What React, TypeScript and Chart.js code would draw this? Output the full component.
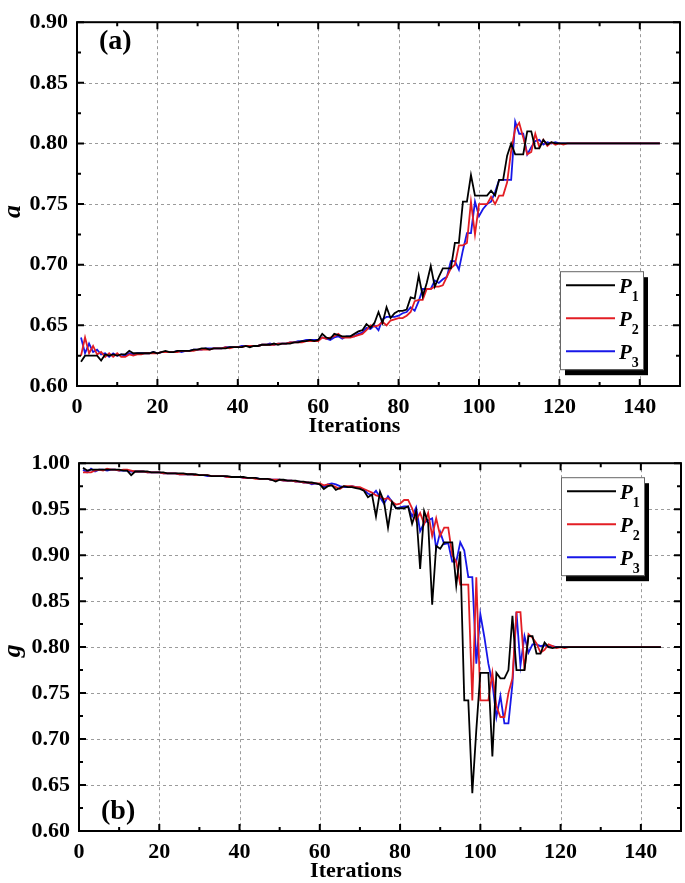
import React, { useEffect, useRef } from "react";
import { Chart, registerables } from "chart.js";

Chart.register(...registerables);

const ITERATIONS = Array.from({ length: 145 }, (_, i) => i + 1);
const X_TICKS = [0, 20, 40, 60, 80, 100, 120, 140];
const A_TICKS = [0.6, 0.65, 0.7, 0.75, 0.8, 0.85, 0.9];
const G_TICKS = [0.6, 0.65, 0.7, 0.75, 0.8, 0.85, 0.9, 0.95, 1.0];
const SERIES_LABELS = ["P1", "P2", "P3"];
const SERIES_COLORS = ["#000000", "#e31e24", "#1717e8"];
const X_TITLE = "Iterations";

// panel (a): parameter a
const A_P1 = [
  0.620, 0.625, 0.625, 0.625, 0.625, 0.621, 0.626, 0.625, 0.626, 0.625,
  0.626, 0.626, 0.629, 0.627, 0.627, 0.627, 0.627, 0.627, 0.628, 0.627,
  0.628, 0.629, 0.628, 0.628, 0.629, 0.629, 0.629, 0.629, 0.630, 0.630,
  0.631, 0.631, 0.630, 0.631, 0.631, 0.631, 0.631, 0.632, 0.632, 0.632,
  0.632, 0.633, 0.632, 0.633, 0.633, 0.634, 0.634, 0.634, 0.635, 0.634,
  0.635, 0.635, 0.635, 0.636, 0.636, 0.637, 0.637, 0.638, 0.637, 0.638,
  0.643, 0.640, 0.639, 0.643, 0.642, 0.641, 0.641, 0.641, 0.643, 0.645,
  0.646, 0.651, 0.648, 0.652, 0.661, 0.652, 0.665, 0.656, 0.660, 0.662,
  0.662, 0.663, 0.673, 0.672, 0.691, 0.674, 0.685, 0.699, 0.682, 0.690,
  0.697, 0.697, 0.697, 0.718, 0.718, 0.752, 0.752, 0.774, 0.757, 0.757,
  0.757, 0.757, 0.761, 0.757, 0.770, 0.770, 0.790, 0.800, 0.791, 0.791,
  0.791, 0.810, 0.810, 0.796, 0.796, 0.803, 0.799, 0.801, 0.800, 0.800,
  0.800, 0.800, 0.800, 0.800, 0.800, 0.800, 0.800, 0.800, 0.800, 0.800,
  0.800, 0.800, 0.800, 0.800, 0.800, 0.800, 0.800, 0.800, 0.800, 0.800,
  0.800, 0.800, 0.800, 0.800, 0.800,
];
const A_P2 = [
  0.625, 0.640, 0.627, 0.633, 0.626, 0.628, 0.624, 0.627, 0.624, 0.627,
  0.624, 0.624, 0.626, 0.625, 0.626, 0.626, 0.627, 0.627, 0.627, 0.627,
  0.628, 0.628, 0.628, 0.628, 0.628, 0.629, 0.629, 0.629, 0.629, 0.630,
  0.630, 0.630, 0.630, 0.631, 0.631, 0.631, 0.632, 0.631, 0.632, 0.632,
  0.632, 0.633, 0.633, 0.633, 0.633, 0.634, 0.634, 0.634, 0.634, 0.635,
  0.635, 0.635, 0.636, 0.636, 0.636, 0.636, 0.637, 0.637, 0.637, 0.637,
  0.640, 0.639, 0.640, 0.641, 0.643, 0.640, 0.640, 0.640, 0.641, 0.642,
  0.643, 0.646, 0.650, 0.649, 0.650, 0.653, 0.650, 0.654, 0.655, 0.656,
  0.656, 0.658, 0.661, 0.670, 0.671, 0.671, 0.680, 0.680, 0.682, 0.682,
  0.683, 0.690, 0.697, 0.700, 0.716, 0.716, 0.718, 0.752, 0.725, 0.750,
  0.750, 0.750, 0.756, 0.750, 0.757, 0.757, 0.768, 0.794, 0.812, 0.817,
  0.805, 0.791, 0.793, 0.808, 0.797, 0.803, 0.798, 0.801, 0.799, 0.800,
  0.799, 0.800, 0.800, 0.800, 0.800, 0.800, 0.800, 0.800, 0.800, 0.800,
  0.800, 0.800, 0.800, 0.800, 0.800, 0.800, 0.800, 0.800, 0.800, 0.800,
  0.800, 0.800, 0.800, 0.800, 0.800,
];
const A_P3 = [
  0.640, 0.627, 0.635, 0.628, 0.630, 0.626, 0.627, 0.624, 0.627, 0.625,
  0.626, 0.625, 0.627, 0.626, 0.627, 0.627, 0.627, 0.627, 0.628, 0.627,
  0.628, 0.628, 0.628, 0.628, 0.629, 0.628, 0.629, 0.629, 0.630, 0.630,
  0.630, 0.631, 0.631, 0.631, 0.631, 0.631, 0.632, 0.632, 0.632, 0.632,
  0.633, 0.633, 0.633, 0.633, 0.633, 0.634, 0.634, 0.635, 0.634, 0.635,
  0.635, 0.635, 0.636, 0.636, 0.637, 0.637, 0.638, 0.638, 0.638, 0.638,
  0.640, 0.639, 0.638, 0.640, 0.641, 0.639, 0.641, 0.641, 0.641, 0.643,
  0.644, 0.648, 0.647, 0.650, 0.646, 0.655, 0.657, 0.657, 0.657, 0.658,
  0.660, 0.661, 0.665, 0.662, 0.670, 0.680, 0.680, 0.680, 0.687, 0.685,
  0.688, 0.690, 0.703, 0.703, 0.696, 0.712, 0.726, 0.726, 0.752, 0.740,
  0.746, 0.750, 0.752, 0.760, 0.770, 0.770, 0.770, 0.770, 0.818, 0.808,
  0.808, 0.791, 0.797, 0.802, 0.803, 0.799, 0.801, 0.800, 0.801, 0.800,
  0.800, 0.800, 0.800, 0.800, 0.800, 0.800, 0.800, 0.800, 0.800, 0.800,
  0.800, 0.800, 0.800, 0.800, 0.800, 0.800, 0.800, 0.800, 0.800, 0.800,
  0.800, 0.800, 0.800, 0.800, 0.800,
];

// panel (b): parameter g
const G_P1 = [
  0.995, 0.992, 0.993, 0.993, 0.993, 0.993, 0.993, 0.993, 0.993, 0.993,
  0.992, 0.992, 0.987, 0.991, 0.991, 0.991, 0.991, 0.990, 0.990, 0.990,
  0.990, 0.989, 0.989, 0.989, 0.989, 0.989, 0.988, 0.988, 0.988, 0.987,
  0.987, 0.987, 0.986, 0.986, 0.986, 0.986, 0.986, 0.985, 0.985, 0.985,
  0.985, 0.984, 0.984, 0.984, 0.983, 0.983, 0.983, 0.982, 0.980, 0.982,
  0.982, 0.981, 0.981, 0.981, 0.980, 0.980, 0.979, 0.979, 0.978, 0.977,
  0.972, 0.975, 0.976, 0.971, 0.973, 0.975, 0.974, 0.974, 0.973, 0.972,
  0.970, 0.963, 0.966, 0.942, 0.969, 0.958, 0.930, 0.958, 0.951, 0.951,
  0.951, 0.953, 0.934, 0.948, 0.885, 0.948, 0.935, 0.846, 0.910, 0.907,
  0.914, 0.914, 0.914, 0.867, 0.904, 0.742, 0.742, 0.641, 0.710, 0.772,
  0.772, 0.772, 0.681, 0.772, 0.766, 0.766, 0.775, 0.834, 0.775, 0.775,
  0.775, 0.812, 0.812, 0.793, 0.793, 0.805, 0.800, 0.799, 0.800, 0.800,
  0.800, 0.800, 0.800, 0.800, 0.800, 0.800, 0.800, 0.800, 0.800, 0.800,
  0.800, 0.800, 0.800, 0.800, 0.800, 0.800, 0.800, 0.800, 0.800, 0.800,
  0.800, 0.800, 0.800, 0.800, 0.800,
];
const G_P2 = [
  0.990, 0.990, 0.990, 0.992, 0.993, 0.992, 0.994, 0.993, 0.993, 0.992,
  0.993, 0.993, 0.992, 0.991, 0.991, 0.991, 0.990, 0.990, 0.990, 0.990,
  0.989, 0.989, 0.989, 0.989, 0.988, 0.988, 0.988, 0.988, 0.987, 0.987,
  0.987, 0.987, 0.986, 0.986, 0.986, 0.986, 0.985, 0.985, 0.985, 0.985,
  0.984, 0.984, 0.984, 0.983, 0.983, 0.983, 0.983, 0.982, 0.982, 0.982,
  0.981, 0.981, 0.981, 0.980, 0.980, 0.979, 0.979, 0.978, 0.978, 0.978,
  0.976, 0.977, 0.976, 0.974, 0.972, 0.975, 0.975, 0.975, 0.974, 0.974,
  0.972, 0.970, 0.968, 0.965, 0.964, 0.961, 0.962, 0.958, 0.955, 0.956,
  0.960, 0.960, 0.951, 0.938, 0.946, 0.934, 0.946, 0.921, 0.940, 0.921,
  0.930, 0.930, 0.900, 0.893, 0.868, 0.868, 0.868, 0.742, 0.876, 0.742,
  0.742, 0.742, 0.772, 0.736, 0.724, 0.724, 0.750, 0.766, 0.838, 0.838,
  0.775, 0.814, 0.810, 0.804, 0.794, 0.797, 0.803, 0.801, 0.799, 0.800,
  0.799, 0.800, 0.800, 0.800, 0.800, 0.800, 0.800, 0.800, 0.800, 0.800,
  0.800, 0.800, 0.800, 0.800, 0.800, 0.800, 0.800, 0.800, 0.800, 0.800,
  0.800, 0.800, 0.800, 0.800, 0.800,
];
const G_P3 = [
  0.993, 0.990, 0.994, 0.991, 0.993, 0.993, 0.992, 0.993, 0.993, 0.992,
  0.992, 0.992, 0.991, 0.991, 0.991, 0.991, 0.990, 0.990, 0.990, 0.990,
  0.989, 0.989, 0.989, 0.989, 0.988, 0.988, 0.988, 0.988, 0.987, 0.987,
  0.987, 0.986, 0.986, 0.986, 0.986, 0.986, 0.985, 0.985, 0.985, 0.985,
  0.984, 0.984, 0.984, 0.984, 0.983, 0.983, 0.983, 0.982, 0.982, 0.982,
  0.981, 0.981, 0.981, 0.980, 0.980, 0.979, 0.979, 0.977, 0.978, 0.977,
  0.974, 0.977, 0.978, 0.977, 0.975, 0.974, 0.974, 0.975, 0.974, 0.973,
  0.971, 0.967, 0.965, 0.970, 0.963, 0.956, 0.964, 0.958, 0.951, 0.952,
  0.953, 0.953, 0.942, 0.952, 0.926, 0.935, 0.938, 0.940, 0.907, 0.925,
  0.912, 0.913, 0.893, 0.893, 0.914, 0.905, 0.876, 0.876, 0.782, 0.836,
  0.811, 0.782, 0.761, 0.724, 0.747, 0.717, 0.717, 0.760, 0.838, 0.780,
  0.812, 0.794, 0.803, 0.803, 0.801, 0.802, 0.800, 0.801, 0.800, 0.800,
  0.800, 0.800, 0.800, 0.800, 0.800, 0.800, 0.800, 0.800, 0.800, 0.800,
  0.800, 0.800, 0.800, 0.800, 0.800, 0.800, 0.800, 0.800, 0.800, 0.800,
  0.800, 0.800, 0.800, 0.800, 0.800,
];

const FONT = '"Liberation Serif", "Times New Roman", Times, serif';

type PanelSpec = {
  canvasTop: number;
  canvasHeight: number;
  padTop: number;
  padRight: number;
  yWidth: number;
  yMin: number;
  yMax: number;
  yTicks: number[];
  yTitle: string;
  yTitleFrac: number;
  series: number[][];
  tag: string;
  tagAtTop: boolean;
  legendTop: number;
};

function decorPlugin(spec: PanelSpec) {
  return {
    id: "decor",
    beforeDatasetsDraw(chart: any) {
      const { ctx, chartArea: a } = chart;
      const xs = chart.scales.x;
      const ys = chart.scales.y;
      ctx.save();
      ctx.strokeStyle = "#9b9b9b";
      ctx.lineWidth = 1;
      ctx.setLineDash([3, 3]);
      ctx.beginPath();
      for (const t of xs.ticks) {
        const p = Math.round(xs.getPixelForValue(t.value)) + 0.5;
        if (p <= a.left + 2 || p >= a.right - 2) continue;
        ctx.moveTo(p, a.top);
        ctx.lineTo(p, a.bottom);
      }
      for (const t of ys.ticks) {
        const p = Math.round(ys.getPixelForValue(t.value)) + 0.5;
        if (p <= a.top + 2 || p >= a.bottom - 2) continue;
        ctx.moveTo(a.left, p);
        ctx.lineTo(a.right, p);
      }
      ctx.stroke();
      ctx.restore();
    },
    afterDatasetsDraw(chart: any) {
      const { ctx, chartArea: a } = chart;
      const xs = chart.scales.x;
      const ys = chart.scales.y;
      ctx.save();
      ctx.setLineDash([]);
      ctx.strokeStyle = "#000";
      ctx.lineWidth = 2;
      ctx.strokeRect(a.left, a.top, a.right - a.left, a.bottom - a.top);

      const major = 7;
      const minor = 4;
      const xv = xs.ticks.map((t: any) => t.value);
      const yv = ys.ticks.map((t: any) => t.value);
      const xMinor: number[] = [];
      for (let i = 0; i < xv.length - 1; i++) xMinor.push((xv[i] + xv[i + 1]) / 2);
      const xStep = xv[1] - xv[0];
      if (xv[xv.length - 1] + xStep / 2 < xs.max) xMinor.push(xv[xv.length - 1] + xStep / 2);
      const yMinor: number[] = [];
      for (let i = 0; i < yv.length - 1; i++) yMinor.push((yv[i] + yv[i + 1]) / 2);

      ctx.beginPath();
      const xTick = (v: number, len: number) => {
        const p = xs.getPixelForValue(v);
        ctx.moveTo(p, a.bottom);
        ctx.lineTo(p, a.bottom - len);
        ctx.moveTo(p, a.top);
        ctx.lineTo(p, a.top + len);
      };
      const yTick = (v: number, len: number) => {
        const p = ys.getPixelForValue(v);
        ctx.moveTo(a.left, p);
        ctx.lineTo(a.left + len, p);
        ctx.moveTo(a.right, p);
        ctx.lineTo(a.right - len, p);
      };
      xv.forEach((v: number) => xTick(v, major));
      xMinor.forEach((v) => xTick(v, minor));
      yv.forEach((v: number) => yTick(v, major));
      yMinor.forEach((v) => yTick(v, minor));
      ctx.stroke();

      // axis titles
      ctx.fillStyle = "#000";
      ctx.textAlign = "center";
      ctx.textBaseline = "middle";
      ctx.font = `bold 22px ${FONT}`;
      ctx.fillText(X_TITLE, a.left + (a.right - a.left) * 0.46, a.bottom + 40.5);
      ctx.save();
      ctx.translate(13, a.top + (a.bottom - a.top) * spec.yTitleFrac);
      ctx.rotate(-Math.PI / 2);
      ctx.font = `bold italic 26px ${FONT}`;
      ctx.fillText(spec.yTitle, 0, 0);
      ctx.restore();

      // panel tag
      ctx.font = `bold 28px ${FONT}`;
      ctx.textBaseline = "middle";
      ctx.textAlign = "left";
      ctx.fillText(spec.tag, a.left + 22, spec.tagAtTop ? a.top + 20 : a.bottom - 19);

      // legend
      const bw = 83;
      const bh = 98;
      const bx = a.right - 120;
      const by = a.top + spec.legendTop;
      ctx.fillStyle = "#000";
      ctx.fillRect(bx + 5, by + 6, bw, bh);
      ctx.fillStyle = "#fff";
      ctx.fillRect(bx, by, bw, bh);
      ctx.strokeStyle = "#666";
      ctx.lineWidth = 1;
      ctx.strokeRect(bx + 0.5, by + 0.5, bw, bh);
      chart.data.datasets.forEach((ds: any, i: number) => {
        const ly = by + 14 + i * 33;
        ctx.strokeStyle = ds.borderColor;
        ctx.lineWidth = 2;
        ctx.beginPath();
        ctx.moveTo(bx + 6, ly);
        ctx.lineTo(bx + 55, ly);
        ctx.stroke();
        ctx.fillStyle = "#000";
        ctx.textBaseline = "alphabetic";
        ctx.textAlign = "left";
        ctx.font = `bold italic 21px ${FONT}`;
        const main = ds.label.slice(0, 1);
        const sub = ds.label.slice(1);
        ctx.fillText(main, bx + 59, ly + 8);
        const w = ctx.measureText(main).width;
        ctx.font = `bold 14px ${FONT}`;
        ctx.fillText(sub, bx + 59 + w, ly + 16);
      });
      ctx.restore();
    },
  };
}

function makeConfig(spec: PanelSpec): any {
  const tickFont = { family: FONT, weight: "bold", size: 22 };
  return {
    type: "line",
    data: {
      labels: ITERATIONS,
      datasets: spec.series.map((s, i) => ({
        label: SERIES_LABELS[i],
        data: s,
        borderColor: SERIES_COLORS[i],
        backgroundColor: SERIES_COLORS[i],
        borderWidth: 1.8,
        pointRadius: 0,
        tension: 0,
        fill: false,
      })),
    },
    options: {
      animation: false,
      responsive: false,
      devicePixelRatio: 1,
      layout: { padding: { top: spec.padTop, right: spec.padRight, left: 0, bottom: 0 } },
      plugins: { legend: { display: false }, tooltip: { enabled: false } },
      scales: {
        x: {
          type: "linear",
          min: 0,
          max: 150,
          afterBuildTicks: (s: any) => {
            s.ticks = X_TICKS.map((v) => ({ value: v }));
          },
          afterFit: (s: any) => {
            s.height = 55;
          },
          grid: { display: false, drawTicks: false },
          border: { display: false },
          ticks: {
            font: tickFont,
            color: "#000",
            padding: 8,
            maxRotation: 0,
            autoSkip: false,
            callback: (v: any) => String(v),
          },
          title: { display: false },
        },
        y: {
          type: "linear",
          min: spec.yMin,
          max: spec.yMax,
          afterBuildTicks: (s: any) => {
            s.ticks = spec.yTicks.map((v) => ({ value: v }));
          },
          afterFit: (s: any) => {
            s.width = spec.yWidth;
          },
          grid: { display: false, drawTicks: false },
          border: { display: false },
          ticks: {
            font: tickFont,
            color: "#000",
            padding: 9,
            autoSkip: false,
            callback: (v: any) => Number(v).toFixed(2),
          },
          title: { display: false },
        },
      },
    },
    plugins: [decorPlugin(spec)],
  };
}

const PANEL_A: PanelSpec = {
  canvasTop: 0,
  canvasHeight: 441,
  padTop: 11,
  padRight: 5,
  yWidth: 77,
  yMin: 0.6,
  yMax: 0.9,
  yTicks: A_TICKS,
  yTitle: "a",
  yTitleFrac: 0.52,
  series: [A_P1, A_P2, A_P3],
  tag: "(a)",
  tagAtTop: true,
  legendTop: 249,
};

const PANEL_B: PanelSpec = {
  canvasTop: 441,
  canvasHeight: 445,
  padTop: 15,
  padRight: 4,
  yWidth: 79,
  yMin: 0.6,
  yMax: 1.0,
  yTicks: G_TICKS,
  yTitle: "g",
  yTitleFrac: 0.51,
  series: [G_P1, G_P2, G_P3],
  tag: "(b)",
  tagAtTop: false,
  legendTop: 14,
};

function Panel({ spec }: { spec: PanelSpec }) {
  const ref = useRef<HTMLCanvasElement | null>(null);
  useEffect(() => {
    if (!ref.current) return;
    const chart = new Chart(ref.current, makeConfig(spec));
    return () => chart.destroy();
  }, [spec]);
  return (
    <canvas
      ref={ref}
      width={685}
      height={spec.canvasHeight}
      style={{
        position: "absolute",
        left: 0,
        top: spec.canvasTop,
        width: 685,
        height: spec.canvasHeight,
        display: "block",
      }}
    />
  );
}

export default function App() {
  return (
    <div
      style={{
        position: "absolute",
        left: 0,
        top: 0,
        width: 685,
        height: 883,
        overflow: "hidden",
        background: "#fff",
      }}
    >
      <Panel spec={PANEL_A} />
      <Panel spec={PANEL_B} />
    </div>
  );
}
